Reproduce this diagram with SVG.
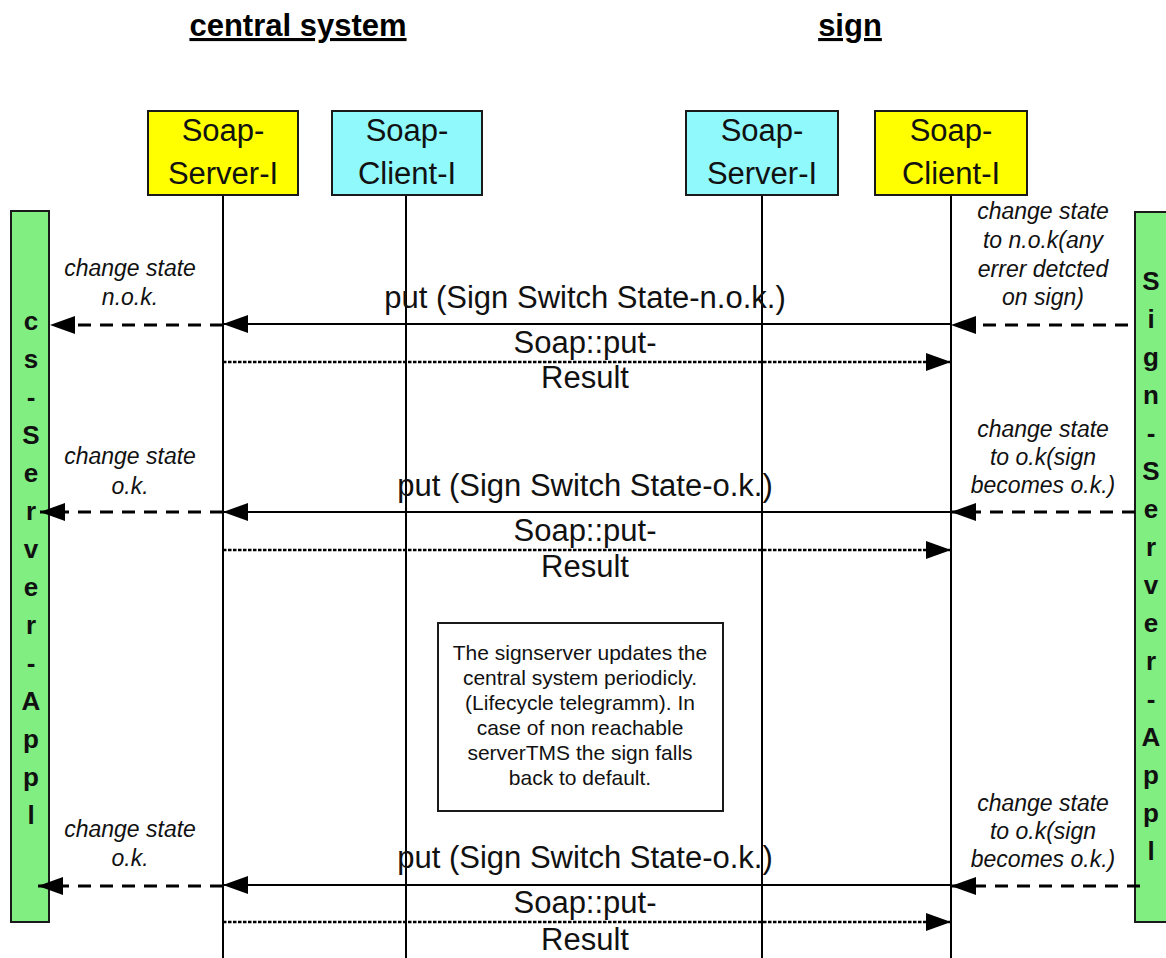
<svg xmlns="http://www.w3.org/2000/svg" width="1166" height="958" viewBox="0 0 1166 958">
<style>
.hdr{font-family:"Liberation Sans",Arial,sans-serif;font-size:31px;font-weight:bold;text-anchor:middle;text-decoration:underline;fill:#000}
.box{stroke:#1a1a1a;stroke-width:2}
.yel{fill:#ffff00}
.cya{fill:#8ff9fb}
.grn{fill:#80ee80;stroke:#1a1a1a;stroke-width:2}
.bt{font-family:"Liberation Sans",Arial,sans-serif;font-size:31px;text-anchor:middle;fill:#111}
.vt{font-family:"Liberation Sans",Arial,sans-serif;font-size:26px;font-weight:bold;text-anchor:middle;fill:#111}
.life{stroke:#000;stroke-width:2}
.msg{font-family:"Liberation Sans",Arial,sans-serif;font-size:31px;text-anchor:middle;fill:#111}
.lab{font-family:"Liberation Sans",Arial,sans-serif;font-size:23px;font-style:italic;text-anchor:middle;fill:#111}
.note{font-family:"Liberation Sans",Arial,sans-serif;font-size:21px;text-anchor:middle;fill:#111}
.solid{stroke:#000;stroke-width:2;fill:none;marker-end:url(#ah)}
.dash{stroke:#000;stroke-width:3;stroke-dasharray:13 9;fill:none;marker-end:url(#ah)}
.dot{stroke:#000;stroke-width:2.5;stroke-dasharray:3.5 1.5;fill:none;marker-end:url(#ah)}
</style>
<defs>
<marker id="ah" markerWidth="25" markerHeight="18" refX="25" refY="9" orient="auto" markerUnits="userSpaceOnUse">
<path d="M0,0 L25,9 L0,18 Z" fill="#000"/>
</marker>
</defs>
<rect width="1166" height="958" fill="#fff"/>

<g id="headers">
<text class="hdr" x="298" y="36">central system</text>
<text class="hdr" x="850" y="36">sign</text>
</g>

<g id="lifelines">
<line class="life" x1="223" y1="195" x2="223" y2="958"/>
<line class="life" x1="406" y1="195" x2="406" y2="958"/>
<line class="life" x1="762" y1="195" x2="762" y2="958"/>
<line class="life" x1="951" y1="195" x2="951" y2="958"/>
</g>

<g id="cs-server">
<rect class="box yel" x="148" y="111" width="150" height="84"/>
<text class="bt" x="223" y="141">Soap-</text>
<text class="bt" x="223" y="184">Server-I</text>
</g>
<g id="cs-client">
<rect class="box cya" x="332" y="111" width="150" height="84"/>
<text class="bt" x="407" y="141">Soap-</text>
<text class="bt" x="407" y="184">Client-I</text>
</g>
<g id="sign-server">
<rect class="box cya" x="686" y="111" width="152" height="84"/>
<text class="bt" x="762" y="141">Soap-</text>
<text class="bt" x="762" y="184">Server-I</text>
</g>
<g id="sign-client">
<rect class="box yel" x="875" y="111" width="152" height="84"/>
<text class="bt" x="951" y="141">Soap-</text>
<text class="bt" x="951" y="184">Client-I</text>
</g>

<g id="cs-server-appl">
<rect class="grn" x="11" y="211" width="38" height="711"/>
<text class="vt" x="31" y="330"><tspan x="31">c</tspan><tspan x="31" dy="38">s</tspan><tspan x="31" dy="38">-</tspan><tspan x="31" dy="38">S</tspan><tspan x="31" dy="38">e</tspan><tspan x="31" dy="38">r</tspan><tspan x="31" dy="38">v</tspan><tspan x="31" dy="38">e</tspan><tspan x="31" dy="38">r</tspan><tspan x="31" dy="38">-</tspan><tspan x="31" dy="38">A</tspan><tspan x="31" dy="38">p</tspan><tspan x="31" dy="38">p</tspan><tspan x="31" dy="38">l</tspan></text>
</g>

<g id="sign-server-appl">
<rect class="grn" x="1135" y="212" width="40" height="710"/>
<text class="vt" x="1151" y="290"><tspan x="1151">S</tspan><tspan x="1151" dy="38">i</tspan><tspan x="1151" dy="38">g</tspan><tspan x="1151" dy="38">n</tspan><tspan x="1151" dy="38">-</tspan><tspan x="1151" dy="38">S</tspan><tspan x="1151" dy="38">e</tspan><tspan x="1151" dy="38">r</tspan><tspan x="1151" dy="38">v</tspan><tspan x="1151" dy="38">e</tspan><tspan x="1151" dy="38">r</tspan><tspan x="1151" dy="38">-</tspan><tspan x="1151" dy="38">A</tspan><tspan x="1151" dy="38">p</tspan><tspan x="1151" dy="38">p</tspan><tspan x="1151" dy="38">l</tspan></text>
</g>

<g id="note">
<rect x="438" y="623" width="285" height="188" fill="#fff" stroke="#1a1a1a" stroke-width="2"/>
<text class="note" x="580" y="660">The signserver updates  the</text>
<text class="note" x="580" y="685">central system periodicly.</text>
<text class="note" x="580" y="710">(Lifecycle telegramm). In</text>
<text class="note" x="580" y="735">case of non reachable</text>
<text class="note" x="580" y="760">serverTMS the sign falls</text>
<text class="note" x="580" y="785">back to default.</text>
</g>

<g id="connectors">
<!-- row 1 -->
<line class="dash" x1="1128" y1="325" x2="951" y2="325"/>
<line class="solid" x1="951" y1="324" x2="223" y2="324"/>
<line class="dash" x1="223" y1="325" x2="50" y2="325"/>
<line class="dot" x1="223" y1="362" x2="951" y2="362"/>
<!-- row 2 -->
<line class="dash" x1="1135" y1="512" x2="951" y2="512"/>
<line class="solid" x1="951" y1="512" x2="223" y2="512"/>
<line class="dash" x1="223" y1="512" x2="40" y2="512"/>
<line class="dot" x1="223" y1="550" x2="951" y2="550"/>
<!-- row 3 -->
<line class="dash" x1="1140" y1="886" x2="951" y2="886"/>
<line class="solid" x1="951" y1="885" x2="223" y2="885"/>
<line class="dash" x1="223" y1="886" x2="38" y2="886"/>
<line class="dot" x1="223" y1="922" x2="951" y2="922"/>
</g>

<g id="labels">
<text class="msg" x="585" y="308">put (Sign Switch State-n.o.k.)</text>
<text class="msg" x="585" y="353">Soap::put-</text>
<text class="msg" x="585" y="388">Result</text>
<text class="msg" x="585" y="496">put (Sign Switch State-o.k.)</text>
<text class="msg" x="585" y="541">Soap::put-</text>
<text class="msg" x="585" y="577">Result</text>
<text class="msg" x="585" y="868">put (Sign Switch State-o.k.)</text>
<text class="msg" x="585" y="913">Soap::put-</text>
<text class="msg" x="585" y="950">Result</text>

<text class="lab" x="130" y="276">change state</text>
<text class="lab" x="130" y="305">n.o.k.</text>
<text class="lab" x="130" y="464">change state</text>
<text class="lab" x="130" y="494">o.k.</text>
<text class="lab" x="130" y="837">change state</text>
<text class="lab" x="130" y="866">o.k.</text>

<text class="lab" x="1043" y="219">change state</text>
<text class="lab" x="1043" y="248">to n.o.k(any</text>
<text class="lab" x="1043" y="277">errer detcted</text>
<text class="lab" x="1043" y="305">on sign)</text>
<text class="lab" x="1043" y="437">change state</text>
<text class="lab" x="1043" y="465">to o.k(sign</text>
<text class="lab" x="1043" y="493">becomes o.k.)</text>
<text class="lab" x="1043" y="811">change state</text>
<text class="lab" x="1043" y="839">to o.k(sign</text>
<text class="lab" x="1043" y="867">becomes o.k.)</text>
</g>
</svg>
